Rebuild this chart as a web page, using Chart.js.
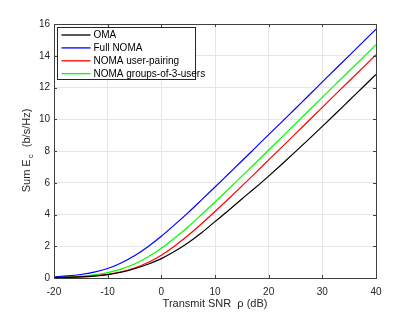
<!DOCTYPE html>
<html>
<head>
<meta charset="utf-8">
<script src="https://cdn.jsdelivr.net/npm/chart.js@4.4.1/dist/chart.umd.min.js"></script>
<style>
  html, body { margin: 0; padding: 0; background: #ffffff; }
  #wrap { width: 415px; height: 312px; }
</style>
</head>
<body>
<div id="wrap"><canvas id="c" width="415" height="312"></canvas></div>
<script>
// Transmit SNR rho (dB)
const snrDb = [-20, -17.5, -15, -12.5, -10, -7.5, -5, -2.5, 0, 2.5, 5, 7.5, 10, 12.5, 15, 17.5, 20, 22.5, 25, 27.5, 30, 32.5, 35, 37.5, 40];

const omaSum = [0.02, 0.035, 0.065, 0.12, 0.21, 0.36, 0.58, 0.87, 1.22, 1.68, 2.22, 2.85, 3.55, 4.25, 4.98, 5.68, 6.42, 7.18, 7.96, 8.75, 9.55, 10.36, 11.18, 12.0, 12.83];
const fullNomaSum = [0.08, 0.13, 0.22, 0.37, 0.60, 0.95, 1.40, 1.97, 2.63, 3.36, 4.12, 4.92, 5.73, 6.55, 7.37, 8.20, 9.03, 9.85, 10.68, 11.51, 12.35, 13.18, 14.01, 14.84, 15.67];
const pairingSum = [0.025, 0.043, 0.076, 0.133, 0.229, 0.385, 0.627, 0.976, 1.44, 2.02, 2.69, 3.42, 4.19, 4.98, 5.79, 6.61, 7.44, 8.26, 9.09, 9.92, 10.75, 11.58, 12.41, 13.24, 14.07];
const groups3Sum = [0.038, 0.067, 0.117, 0.201, 0.340, 0.559, 0.880, 1.32, 1.87, 2.52, 3.23, 4.00, 4.79, 5.59, 6.41, 7.23, 8.06, 8.89, 9.72, 10.55, 11.38, 12.21, 13.04, 13.87, 14.70];

const seriesLabels = ["OMA", "Full NOMA", "NOMA user-pairing", "NOMA groups-of-3-users"];
const seriesColors = ["#000000", "#0000ff", "#ff0000", "#00ff00"];
const xTicks = [-20, -10, 0, 10, 20, 30, 40];
const yTicks = [0, 2, 4, 6, 8, 10, 12, 14, 16];

const FONT = "'Liberation Sans', Arial, Helvetica, sans-serif";
const TXT = "#262626";

function pts(ys) { return snrDb.map((x, i) => ({ x: x, y: ys[i] })); }
const allSeries = [omaSum, fullNomaSum, pairingSum, groups3Sum];

const datasets = allSeries.map((ys, i) => ({
  label: seriesLabels[i],
  data: pts(ys),
  borderColor: seriesColors[i],
  backgroundColor: seriesColors[i],
  borderWidth: 1.2,
  pointRadius: 0,
  tension: 0.4,
  cubicInterpolationMode: 'monotone',
  fill: false
}));

// inward ticks + frame
const matlabAxes = {
  id: 'matlabAxes',
  afterDatasetsDraw(chart) {
    const ctx = chart.ctx, a = chart.chartArea;
    const xs = chart.scales.x, ys = chart.scales.y;
    ctx.save();
    ctx.strokeStyle = "#404040";
    ctx.lineWidth = 1;
    ctx.strokeRect(Math.round(a.left) + 0.5, Math.round(a.top) + 0.5, Math.round(a.right - a.left), Math.round(a.bottom - a.top));
    ctx.beginPath();
    const tl = 3;
    xTicks.forEach(v => {
      const px = Math.round(xs.getPixelForValue(v)) + 0.5;
      ctx.moveTo(px, a.bottom); ctx.lineTo(px, a.bottom - tl);
      ctx.moveTo(px, a.top); ctx.lineTo(px, a.top + tl);
    });
    yTicks.forEach(v => {
      const py = Math.round(ys.getPixelForValue(v)) + 0.5;
      ctx.moveTo(a.left, py); ctx.lineTo(a.left + tl, py);
      ctx.moveTo(a.right, py); ctx.lineTo(a.right - tl, py);
    });
    ctx.stroke();
    ctx.restore();
  }
};

// legend inside the plot (north-west)
const insideLegend = {
  id: 'insideLegend',
  afterDraw(chart) {
    const ctx = chart.ctx, a = chart.chartArea;
    const bx = a.left + 3.5, by = a.top + 3.5, bw = 138, bh = 52;
    ctx.save();
    ctx.fillStyle = "#ffffff";
    ctx.fillRect(bx, by, bw, bh);
    ctx.strokeStyle = "#262626";
    ctx.lineWidth = 1;
    ctx.strokeRect(bx, by, bw, bh);
    ctx.font = "10px " + FONT;
    ctx.textBaseline = "middle";
    chart.data.datasets.forEach((ds, i) => {
      const cy = by + 7.5 + i * 12.9;
      ctx.strokeStyle = ds.borderColor;
      ctx.lineWidth = 1.3;
      ctx.beginPath();
      ctx.moveTo(bx + 4, cy); ctx.lineTo(bx + 33, cy);
      ctx.stroke();
      ctx.fillStyle = "#000000";
      ctx.fillText(ds.label, bx + 36, cy + 0.5);
    });
    ctx.restore();
  }
};

// y-axis title with subscript
const yTitle = {
  id: 'yTitle',
  afterDraw(chart) {
    const ctx = chart.ctx, a = chart.chartArea;
    const cx = 27, cy = (a.top + a.bottom) / 2;
    const p1 = "Sum E", p2 = "c", p3 = "  (b/s/Hz)";
    ctx.save();
    ctx.translate(cx, cy);
    ctx.rotate(-Math.PI / 2);
    ctx.fillStyle = TXT;
    ctx.textBaseline = "middle";
    ctx.font = "11px " + FONT;
    const w1 = ctx.measureText(p1).width, w3 = ctx.measureText(p3).width;
    ctx.font = "8px " + FONT;
    const w2 = ctx.measureText(p2).width + 1;
    const tot = w1 + w2 + w3;
    let x = -tot / 2;
    ctx.font = "11px " + FONT;
    ctx.textAlign = "left";
    ctx.fillText(p1, x, 0); x += w1 + 1;
    ctx.font = "8px " + FONT;
    ctx.fillText(p2, x, 4); x += w2;
    ctx.font = "11px " + FONT;
    ctx.fillText(p3, x, 0);
    ctx.restore();
  }
};

new Chart(document.getElementById('c'), {
  type: 'line',
  data: { datasets: datasets },
  plugins: [matlabAxes, insideLegend, yTitle],
  options: {
    responsive: false,
    animation: false,
    devicePixelRatio: 1,
    layout: { padding: { left: 0, top: 24, right: 39, bottom: 0 } },
    plugins: { legend: { display: false }, tooltip: { enabled: false } },
    scales: {
      x: {
        type: 'linear',
        min: -20, max: 40,
        afterFit(s) { s.height = 34; },
        afterBuildTicks(s) { s.ticks = xTicks.map(v => ({ value: v })); },
        grid: { color: "#e6e6e6", lineWidth: 1, drawTicks: false },
        border: { display: false },
        ticks: { color: TXT, font: { family: FONT, size: 10 }, padding: 8, maxRotation: 0, autoSkip: false },
        title: { display: true, text: "Transmit SNR  ρ (dB)", color: TXT, font: { family: FONT, size: 11 }, padding: { top: 0, bottom: 1 } }
      },
      y: {
        type: 'linear',
        min: 0, max: 16,
        afterFit(s) { s.width = 54; },
        afterBuildTicks(s) { s.ticks = yTicks.map(v => ({ value: v })); },
        grid: { color: "#e6e6e6", lineWidth: 1, drawTicks: false },
        border: { display: false },
        ticks: { color: TXT, font: { family: FONT, size: 10 }, padding: 4, autoSkip: false }
      }
    }
  }
});
</script>
</body>
</html>
